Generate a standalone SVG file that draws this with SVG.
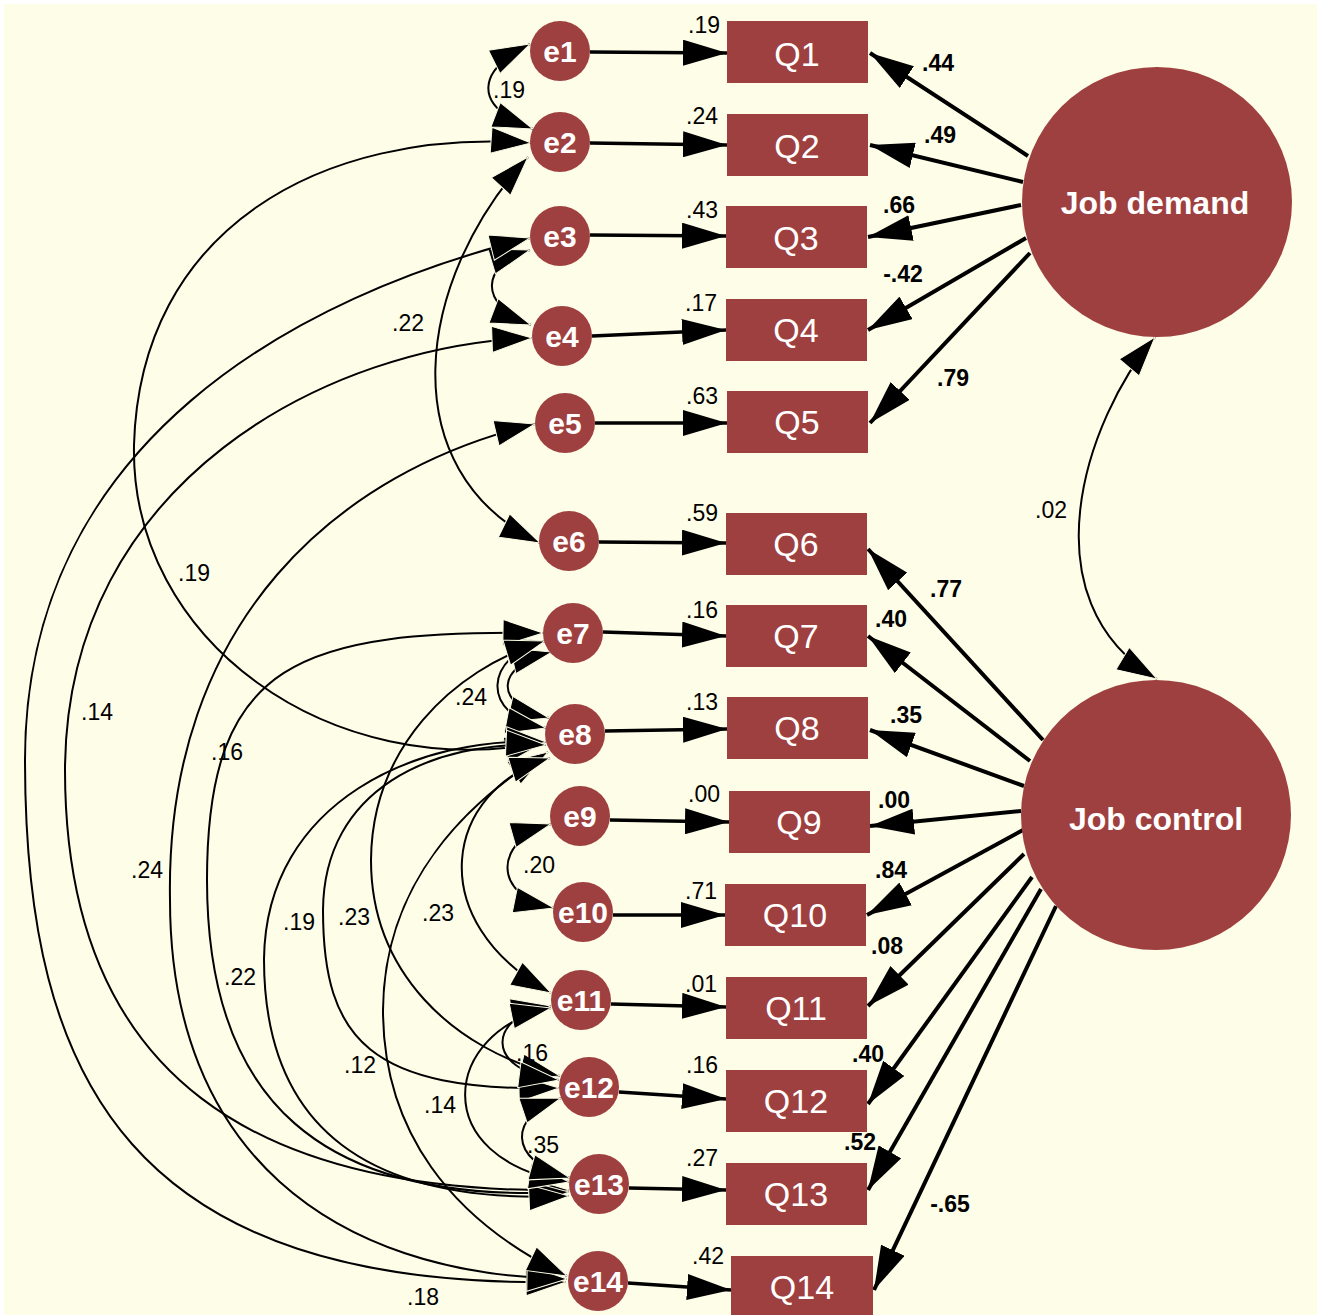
<svg xmlns="http://www.w3.org/2000/svg" width="1317" height="1315" viewBox="0 0 1317 1315">
<style>
.bg{fill:#FEFDE7}
.obs{fill:#9F4040}
.lat{fill:#9F4040}
.qt{font-family:"Liberation Sans",Arial,sans-serif;font-size:34px;fill:#fff;text-anchor:middle}
.et{font-family:"Liberation Sans",Arial,sans-serif;font-size:30px;font-weight:bold;fill:#fff;text-anchor:middle}
.lt{font-family:"Liberation Sans",Arial,sans-serif;font-size:32px;font-weight:bold;fill:#fff;text-anchor:middle}
.n{font-family:"Liberation Sans",Arial,sans-serif;font-size:23px;fill:#000;text-anchor:middle}
.b{font-family:"Liberation Sans",Arial,sans-serif;font-size:23px;font-weight:bold;fill:#000;text-anchor:middle}
.thick{stroke:#000;stroke-width:3.5;fill:none;marker-end:url(#ah)}
.lload{stroke:#000;stroke-width:4;fill:none;marker-end:url(#ah)}
.cov{stroke:#000;stroke-width:2;fill:none;marker-start:url(#ch);marker-end:url(#ch)}
</style>
<defs>
<marker id="ah" markerUnits="userSpaceOnUse" markerWidth="44" markerHeight="26" viewBox="0 0 44 26" refX="44" refY="13" orient="auto"><path d="M0,0 L44,13 L0,26 z" fill="#000"/></marker>
<marker id="ch" markerUnits="userSpaceOnUse" markerWidth="42" markerHeight="28" viewBox="-1 -1 42 28" refX="40" refY="13" orient="auto-start-reverse"><path d="M0,0 L40,13 L0,26 z" fill="#000" stroke="#FEFDE7" stroke-width="1"/></marker>
</defs>
<rect width="1317" height="1315" fill="#fff"/>
<rect class="bg" x="4" y="4" width="1313" height="1311"/>

<g id="connectors">
<path class="thick" d="M590,52 L727,53"/>
<path class="thick" d="M590,143 L727,145"/>
<path class="thick" d="M590,235 L726,236"/>
<path class="thick" d="M592,336 L726,330"/>
<path class="thick" d="M595,423 L727,423"/>
<path class="thick" d="M599,542 L726,543"/>
<path class="thick" d="M603,632 L726,636"/>
<path class="thick" d="M605,731 L727,729"/>
<path class="thick" d="M610,820 L729,822"/>
<path class="thick" d="M613,915 L725,915"/>
<path class="thick" d="M611,1004 L726,1007"/>
<path class="thick" d="M619,1092 L726,1099"/>
<path class="thick" d="M629,1188 L726,1190"/>
<path class="thick" d="M628,1283 L731,1290"/>
<path class="lload" d="M1028,156 L870,53"/>
<path class="lload" d="M1023,182 L870,145"/>
<path class="lload" d="M1021,205 L868,237"/>
<path class="lload" d="M1026,238 L868,330"/>
<path class="lload" d="M1030,253 L870,423"/>
<path class="lload" d="M1043,740 L868,549"/>
<path class="lload" d="M1030,761 L868,636"/>
<path class="lload" d="M1024,786 L870,730"/>
<path class="lload" d="M1021,811 L870,826"/>
<path class="lload" d="M1023,830 L867,915"/>
<path class="lload" d="M1024,854 L868,1006"/>
<path class="lload" d="M1032,877 L868,1104"/>
<path class="lload" d="M1041,889 L868,1190"/>
<path class="lload" d="M1056,906 L874,1290"/>
<path class="cov" d="M1155,337 C1085,420 1025,600 1157,679"/>
<path class="cov" d="M530,44 C478,70 470,105 533,129"/>
<path class="cov" d="M528,157 C415,280 390,470 540,543"/>
<path class="cov" d="M531,143 C320,128 140,230 134,445 C130,640 330,785 545,742"/>
<path class="cov" d="M530,250 C480,265 478,305 531,325"/>
<path class="cov" d="M530,238 C300,295 25,440 25,760 C25,1080 130,1290 566,1282"/>
<path class="cov" d="M532,338 C330,345 66,480 65,770 C65,1080 260,1195 569,1190"/>
<path class="cov" d="M535,424 C340,470 165,620 170,900 C170,1150 330,1275 567,1279"/>
<path class="cov" d="M552,652 C495,665 492,705 549,718"/>
<path class="cov" d="M545,641 C485,655 478,715 546,728"/>
<path class="cov" d="M543,633 C300,630 207,660 207,880 C207,1100 320,1205 569,1192"/>
<path class="cov" d="M546,742 C420,735 266,800 264,959 C264,1130 370,1205 569,1196"/>
<path class="cov" d="M546,745 C430,740 324,790 323,910 C323,1040 370,1092 559,1088"/>
<path class="cov" d="M545,641 C450,670 372,750 371,860 C371,970 450,1050 560,1076"/>
<path class="cov" d="M548,752 C470,800 384,880 383,1010 C383,1130 450,1220 567,1276"/>
<path class="cov" d="M550,758 C445,790 420,920 551,993"/>
<path class="cov" d="M551,824 C495,840 490,895 554,908"/>
<path class="cov" d="M551,1006 C488,1015 482,1070 559,1080"/>
<path class="cov" d="M551,1008 C442,1030 425,1160 569,1182"/>
<path class="cov" d="M561,1098 C510,1115 505,1160 570,1178"/>
</g>

<g id="labels">
<text class="n" x="704" y="33">.19</text>
<text class="n" x="702" y="124">.24</text>
<text class="n" x="702" y="218">.43</text>
<text class="n" x="701" y="311">.17</text>
<text class="n" x="702" y="404">.63</text>
<text class="n" x="702" y="521">.59</text>
<text class="n" x="702" y="618">.16</text>
<text class="n" x="702" y="710">.13</text>
<text class="n" x="704" y="802">.00</text>
<text class="n" x="701" y="899">.71</text>
<text class="n" x="701" y="992">.01</text>
<text class="n" x="702" y="1073">.16</text>
<text class="n" x="702" y="1166">.27</text>
<text class="n" x="708" y="1264">.42</text>
<text class="b" x="938" y="71">.44</text>
<text class="b" x="940" y="143">.49</text>
<text class="b" x="899" y="213">.66</text>
<text class="b" x="903" y="282">-.42</text>
<text class="b" x="953" y="386">.79</text>
<text class="b" x="946" y="597">.77</text>
<text class="b" x="891" y="627">.40</text>
<text class="b" x="906" y="723">.35</text>
<text class="b" x="894" y="808">.00</text>
<text class="b" x="891" y="878">.84</text>
<text class="b" x="887" y="954">.08</text>
<text class="b" x="868" y="1062">.40</text>
<text class="b" x="860" y="1150">.52</text>
<text class="b" x="950" y="1212">-.65</text>
<text class="n" x="509" y="98">.19</text>
<text class="n" x="408" y="331">.22</text>
<text class="n" x="194" y="581">.19</text>
<text class="n" x="97" y="720">.14</text>
<text class="n" x="227" y="760">.16</text>
<text class="n" x="147" y="878">.24</text>
<text class="n" x="471" y="705">.24</text>
<text class="n" x="539" y="873">.20</text>
<text class="n" x="299" y="930">.19</text>
<text class="n" x="354" y="925">.23</text>
<text class="n" x="438" y="921">.23</text>
<text class="n" x="240" y="985">.22</text>
<text class="n" x="360" y="1073">.12</text>
<text class="n" x="440" y="1113">.14</text>
<text class="n" x="532" y="1061">.16</text>
<text class="n" x="543" y="1153">.35</text>
<text class="n" x="423" y="1305">.18</text>
<text class="n" x="1051" y="518">.02</text>
</g>

<g id="JobDemand"><circle class="lat" cx="1157" cy="202" r="135"/><text class="lt" x="1155" y="214">Job demand</text></g>
<g id="JobControl"><circle class="lat" cx="1156" cy="815" r="135"/><text class="lt" x="1156" y="830">Job control</text></g>

<g id="Q1"><rect class="obs" x="727" y="21" width="141" height="62"/><text class="qt" x="797" y="66">Q1</text></g>
<g id="Q2"><rect class="obs" x="727" y="114" width="141" height="62"/><text class="qt" x="797" y="158">Q2</text></g>
<g id="Q3"><rect class="obs" x="726" y="206" width="141" height="62"/><text class="qt" x="796" y="250">Q3</text></g>
<g id="Q4"><rect class="obs" x="726" y="299" width="141" height="62"/><text class="qt" x="796" y="342">Q4</text></g>
<g id="Q5"><rect class="obs" x="727" y="391" width="141" height="62"/><text class="qt" x="797" y="434">Q5</text></g>
<g id="Q6"><rect class="obs" x="726" y="513" width="141" height="62"/><text class="qt" x="796" y="556">Q6</text></g>
<g id="Q7"><rect class="obs" x="726" y="605" width="141" height="62"/><text class="qt" x="796" y="648">Q7</text></g>
<g id="Q8"><rect class="obs" x="727" y="697" width="141" height="62"/><text class="qt" x="797" y="740">Q8</text></g>
<g id="Q9"><rect class="obs" x="729" y="791" width="141" height="62"/><text class="qt" x="799" y="834">Q9</text></g>
<g id="Q10"><rect class="obs" x="725" y="884" width="141" height="62"/><text class="qt" x="795" y="927">Q10</text></g>
<g id="Q11"><rect class="obs" x="726" y="977" width="141" height="62"/><text class="qt" x="796" y="1020">Q11</text></g>
<g id="Q12"><rect class="obs" x="726" y="1070" width="141" height="62"/><text class="qt" x="796" y="1113">Q12</text></g>
<g id="Q13"><rect class="obs" x="726" y="1163" width="141" height="62"/><text class="qt" x="796" y="1206">Q13</text></g>
<g id="Q14"><rect class="obs" x="731" y="1256" width="142" height="62"/><text class="qt" x="802" y="1299">Q14</text></g>

<g id="e1"><circle class="obs" cx="560" cy="51" r="30"/><text class="et" x="560" y="62">e1</text></g>
<g id="e2"><circle class="obs" cx="560" cy="142" r="30"/><text class="et" x="560" y="153">e2</text></g>
<g id="e3"><circle class="obs" cx="560" cy="236" r="30"/><text class="et" x="560" y="247">e3</text></g>
<g id="e4"><circle class="obs" cx="562" cy="336" r="30"/><text class="et" x="562" y="347">e4</text></g>
<g id="e5"><circle class="obs" cx="565" cy="423" r="30"/><text class="et" x="565" y="434">e5</text></g>
<g id="e6"><circle class="obs" cx="569" cy="541" r="30"/><text class="et" x="569" y="552">e6</text></g>
<g id="e7"><circle class="obs" cx="573" cy="633" r="30"/><text class="et" x="573" y="644">e7</text></g>
<g id="e8"><circle class="obs" cx="575" cy="734" r="30"/><text class="et" x="575" y="745">e8</text></g>
<g id="e9"><circle class="obs" cx="580" cy="816" r="30"/><text class="et" x="580" y="827">e9</text></g>
<g id="e10"><circle class="obs" cx="583" cy="912" r="30"/><text class="et" x="583" y="923">e10</text></g>
<g id="e11"><circle class="obs" cx="581" cy="1000" r="30"/><text class="et" x="581" y="1011">e11</text></g>
<g id="e12"><circle class="obs" cx="589" cy="1087" r="30"/><text class="et" x="589" y="1098">e12</text></g>
<g id="e13"><circle class="obs" cx="599" cy="1184" r="30"/><text class="et" x="599" y="1195">e13</text></g>
<g id="e14"><circle class="obs" cx="598" cy="1281" r="30"/><text class="et" x="598" y="1292">e14</text></g>
</svg>
